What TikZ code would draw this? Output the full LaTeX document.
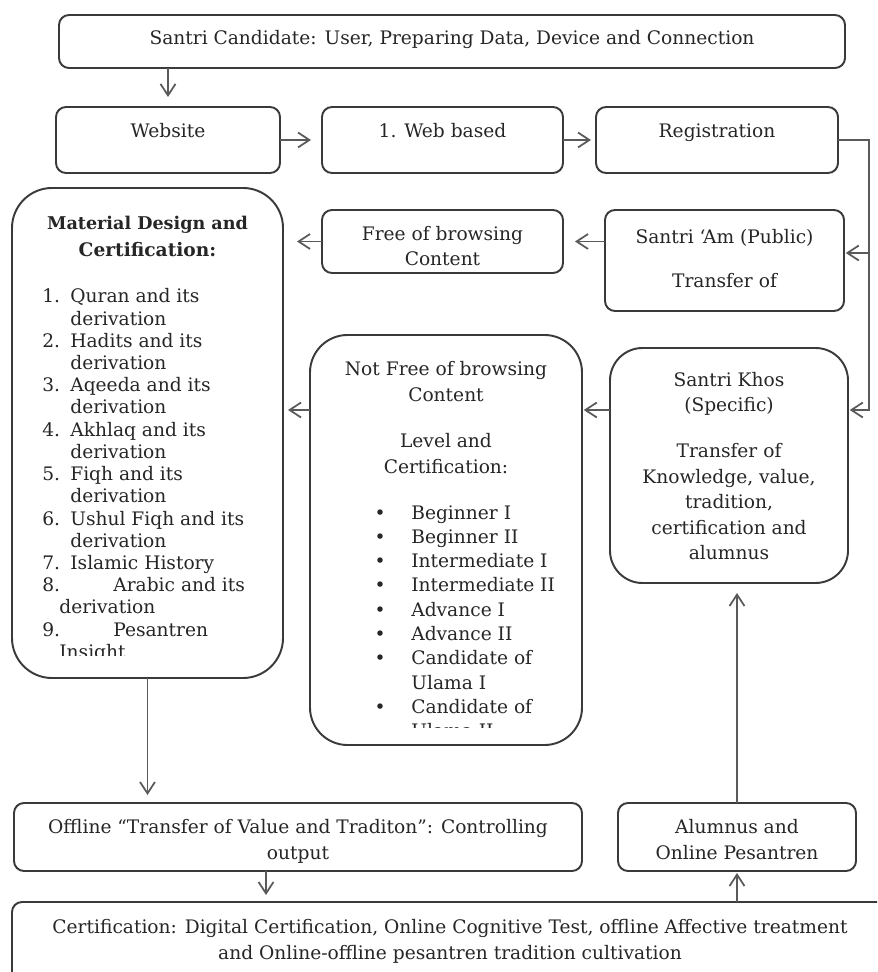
\documentclass[tikz,border=0pt]{standalone}
\usepackage{fontspec}
\setmainfont{DejaVu Serif}
\usepackage{xcolor}
\usetikzlibrary{positioning,calc,arrows.meta}
\definecolor{boxgray}{HTML}{3A3A3A}
\definecolor{flowgray}{HTML}{5A5A5A}
\definecolor{inkgray}{HTML}{262626}
\newcommand{\flowbox}[6]{%
  \node[draw=boxgray,line width=1.1pt,rounded corners=#6,fill=white,
        minimum width=#4*0.02cm,minimum height=#5*0.02cm,
        anchor=north west,inner sep=0pt,outer sep=0pt] (#1) at (#2,#3) {};
}
\newcommand{\boxtext}[4]{%
  \node[anchor=north,align=center,inner sep=0pt,text=inkgray,
        font=\fontsize{10.6}{#3}\selectfont] (#1-txt) at ($(#1.north)+(0,#2)$) {#4};
}

\begin{document}
\begin{tikzpicture}[x=0.02cm,y=-0.02cm,
  flow/.style={draw=flowgray,line width=1pt,-{Straight Barb[length=6.5pt,width=8.5pt]}},
  itemtext/.style={anchor=base west,inner sep=0pt,text=inkgray,font=\fontsize{10.6}{12}\selectfont}]
  \useasboundingbox (0,0) rectangle (877,972);
  \clip (0,0) rectangle (877,972);
  \fill[white] (0,0) rectangle (877,972);

  % boxes, top left corner and size in pixels of the scan
  \flowbox{top}{59}{15}{786}{53}{0.2cm}
  \flowbox{website}{56}{107}{224}{66}{0.2cm}
  \flowbox{webbased}{322}{107}{241}{66}{0.2cm}
  \flowbox{registration}{596}{107}{242}{66}{0.2cm}
  \flowbox{material}{12}{188}{271}{490}{0.8cm}
  \flowbox{free}{322}{210}{241}{63}{0.2cm}
  \flowbox{santriAm}{605}{210}{239}{101}{0.2cm}
  \flowbox{notfree}{310}{335}{272}{410}{0.75cm}
  \flowbox{khos}{610}{348}{238}{235}{0.65cm}
  \flowbox{offline}{14}{803}{568}{68}{0.2cm}
  \flowbox{alumnus}{618}{803}{238}{68}{0.2cm}
  \flowbox{cert}{12}{902}{876}{100}{0.2cm}

  \boxtext{top}{15}{14}{Santri Candidate: User, Preparing Data, Device and Connection}
  \boxtext{website}{16}{14}{Website}
  \boxtext{webbased}{16}{14}{1. Web based}
  \boxtext{registration}{16}{14}{Registration}
  \boxtext{free}{16}{14.2}{Free of browsing\\Content}
  \boxtext{santriAm}{19}{14.2}{Santri ‘Am (Public)\\[10.8pt]Transfer of}
  \boxtext{khos}{24}{14.5}{Santri Khos\\(Specific)\\[11.6pt]Transfer of\\Knowledge, value,\\tradition,\\certification and\\alumnus}
  \boxtext{notfree}{26}{14.8}{Not Free of browsing\\Content\\[11.4pt]Level and\\Certification:}
  \boxtext{material}{28}{15.3}{\fontsize{10}{15.3}\selectfont\textbf{Material Design and}\\\textbf{Certification:}}
  \boxtext{offline}{16}{14.8}{Offline “Transfer of Value and Traditon”: Controlling\\output}
  \boxtext{alumnus}{16}{14.8}{Alumnus and\\Online Pesantren}
  \boxtext{cert}{17}{14.8}{Certification: Digital Certification, Online Cognitive Test, offline Affective treatment\\and Online-offline pesantren tradition cultivation}

  % subject list, cut off at the box bottom
  \begin{scope}
    \clip (12,188) rectangle (283,655);
    \foreach \n/\num in {0/1.,2/2.,4/3.,6/4.,8/5.,10/6.,12/7.,13/8.,15/9.}
      \node[itemtext] (matnum-\n) at (42,{303+22.2*\n}) {\num};
    \foreach \n/\xt/\t in {0/70/Quran and its,1/70/derivation,2/70/Hadits and its,
        3/70/derivation,4/70/Aqeeda and its,5/70/derivation,6/70/Akhlaq and its,
        7/70/derivation,8/70/Fiqh and its,9/70/derivation,10/70/Ushul Fiqh and its,
        11/70/derivation,12/70/Islamic History,13/113/Arabic and its,14/59/derivation,
        15/113/Pesantren,16/59/Insight}
      \node[itemtext] (mat-\n) at (\xt,{303+22.2*\n}) {\t};
  \end{scope}

  % levels, cut off as well
  \begin{scope}
    \clip (310,335) rectangle (582,727);
    \foreach \n in {0,...,6,8}
      \node[itemtext,anchor=base] (dot-\n) at (380,{519+24.3*\n}) {\textbullet};
    \foreach \n/\t in {0/Beginner I,1/Beginner II,2/Intermediate I,3/Intermediate II,
        4/Advance I,5/Advance II,6/Candidate of,7/Ulama I,8/Candidate of,9/Ulama II}
      \node[itemtext] (lvl-\n) at (411,{519+24.3*\n}) {\t};
  \end{scope}

  \coordinate (rail) at (869,0);
  \coordinate (khos-in) at ($(khos.north east)+(0,62)$);
  \coordinate (am-in) at ([yshift=0.15cm]santriAm.east);
  \coordinate (off-out) at ([xshift=-0.64cm]offline.south);

  \draw[flow,shorten >=0.2cm] (top.south -| website.north) -- (website.north);
  \draw[flow,shorten >=0.22cm] (website.east) -- (webbased.west);
  \draw[flow,shorten >=0.1cm] (webbased.east) -- (registration.west);
  \draw[flow,shorten >=1pt] (registration.east) -- (registration.east -| rail) |- (khos-in);
  \draw[flow,shorten >=1pt] (rail |- am-in) -- (am-in);
  \draw[flow,shorten >=0.24cm] (santriAm.west |- free.east) -- (free.east);
  \draw[flow,shorten >=0.28cm] (free.west) -- (free.west -| material.east);
  \draw[flow,shorten >=1pt] (khos.west |- khos-in) -- (notfree.east |- khos-in);
  \draw[flow,shorten >=0.1cm] (notfree.west |- khos-in) -- (material.east |- khos-in);
  \draw[flow,shorten >=0.16cm] (material.south) -- (material.south |- offline.north);
  \draw[flow,shorten >=0.14cm] (off-out) -- (off-out |- cert.north);
  \draw[flow,shorten >=0.04cm] (cert.north -| alumnus.south) -- (alumnus.south);
  \draw[flow,shorten >=0.2cm] (alumnus.north) -- (alumnus.north |- khos.south);
\end{tikzpicture}
\end{document}
